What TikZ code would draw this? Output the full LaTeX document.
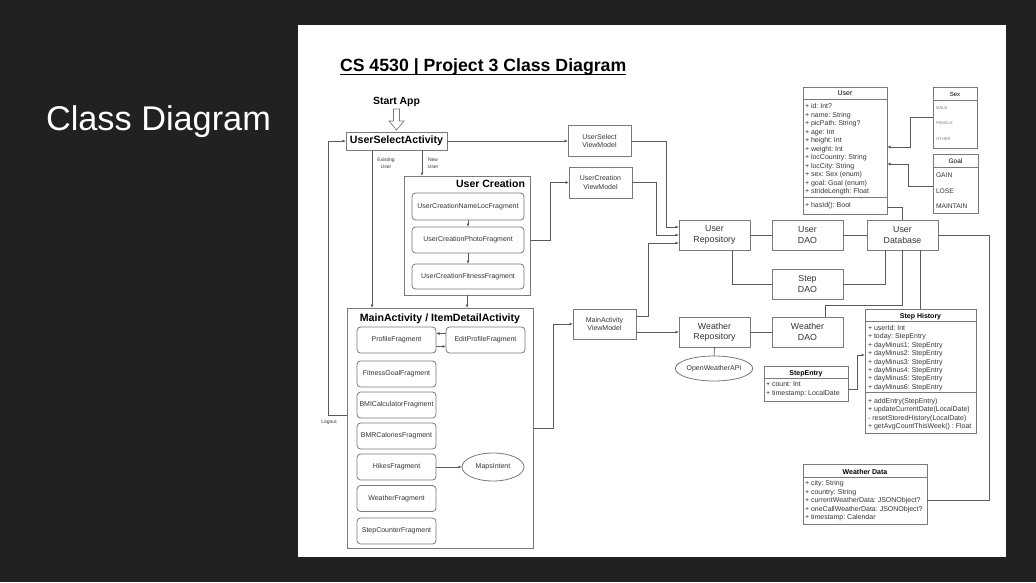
\documentclass[tikz,border=0pt]{standalone}
\usepackage{fontspec}
\setmainfont{Liberation Sans}
\usetikzlibrary{arrows.meta,shapes.geometric,positioning}
\definecolor{SlideBg}{HTML}{212121}
\definecolor{BoxLine}{HTML}{7A7A7A}
\definecolor{LinkLine}{HTML}{5A5A5A}
\definecolor{TextDark}{HTML}{353535}
\definecolor{EnumGray}{HTML}{808080}
\frenchspacing

\begin{document}
\begin{tikzpicture}[
    x=1pt, y=-1pt,
    every node/.style={inner sep=0pt, outer sep=0pt},
    plainbox/.style={draw=BoxLine, line width=0.8pt, fill=white, align=center, text=TextDark, font=\fontsize{7}{8.5}\selectfont},
    vmbox/.style={plainbox, minimum width=63, minimum height=31},
    repobox/.style={plainbox, minimum width=\repoW, minimum height=\repoH, font=\fontsize{8.8}{10.5}\selectfont},
    fragbox/.style={plainbox, rounded corners=3.5pt, minimum width=\fragW, minimum height=\fragH},
    groupbox/.style={draw=BoxLine, line width=0.8pt, fill=white},
    umlbox/.style={draw=BoxLine, line width=0.7pt, fill=white, anchor=north west},
    umltext/.style={anchor=base west, text=TextDark, font=\fontsize{7}{8.5}\selectfont},
    umlhead/.style={anchor=base, text=black, font=\bfseries\fontsize{7}{8.5}\selectfont},
    tinylabel/.style={align=center, text=TextDark, font=\fontsize{5}{7}\selectfont},
    link/.style={draw=LinkLine, line width=0.7pt},
    arr/.style={link, -{Latex[length=3.5pt, width=3pt]}},
 ]
\def\repoW{71}
\def\repoH{30}
\def\fragW{79}
\def\fragH{26}

\useasboundingbox (0,0) rectangle (1036,582);
\fill[SlideBg] (0,0) rectangle (1036,582);
\fill[white] (298,25) rectangle (1006,557);

\node[anchor=base west, text=white, font=\fontsize{34.3}{40}\selectfont] (slideTitle) at (46,130) {Class Diagram};
\node[anchor=base west, font=\bfseries\fontsize{17.7}{20}\selectfont] (diagTitle) at (340,71.7) {CS 4530 | Project 3 Class Diagram};
\draw[line width=1.3pt] ([yshift=-2.8pt]diagTitle.base west) -- ([yshift=-2.8pt]diagTitle.base east);

\node[anchor=base, font=\bfseries\fontsize{10.4}{12}\selectfont] (startApp) at (396.5,104) {Start App};
\draw[BoxLine, line width=0.7pt, fill=white] (393.5,109) -- (399.5,109) -- (399.5,121) -- (404,121) -- (396.5,130) -- (389,121) -- (393.5,121) -- cycle;

\node[plainbox, text=black, minimum width=101, minimum height=18, font=\bfseries\fontsize{10.6}{12}\selectfont] (usa) at (396.5,141) {UserSelectActivity};

\node[vmbox] (usvm) at (599.5,141) {UserSelect\\ViewModel};
\node[vmbox] (ucvm) at (600.5,182.5) {UserCreation\\ViewModel};
\node[vmbox, minimum height=30] (mavm) at (604.5,324) {MainActivity\\ViewModel};

\node[tinylabel] (existingLbl) at (386,163.5) {Existing\\User};
\node[tinylabel] (newLbl) at (433,163.5) {New\\User};
\node[tinylabel] (logoutLbl) at (329,422) {Logout};

\node[groupbox, minimum width=126, minimum height=119] (userCreation) at (467,235.5) {};
\node[anchor=base east, font=\bfseries\fontsize{10.5}{12}\selectfont] (userCreationTitle) at (525,187) {User Creation};
\node[fragbox, minimum width=112, minimum height=27] (ucName) at (468,206.5) {UserCreationNameLocFragment};
\node[fragbox, minimum width=112] (ucPhoto) at (468,240) {UserCreationPhotoFragment};
\node[fragbox, minimum width=112, minimum height=25] (ucFit) at (468,276.5) {UserCreationFitnessFragment};

\node[groupbox, minimum width=186, minimum height=240] (mainAct) at (440,428) {};
\node[anchor=base, font=\bfseries\fontsize{10.6}{12}\selectfont] (mainActTitle) at (440,321) {MainActivity / ItemDetailActivity};
\foreach \name/\yc/\txt in {profile/340/ProfileFragment, fitGoal/374/FitnessGoalFragment, bmiCalc/405/BMICalculatorFragment, bmrCal/436/BMRCaloriesFragment, hikes/467/HikesFragment, weatherFrag/498.5/WeatherFragment, stepCounter/531/StepCounterFragment} {
    \node[fragbox] (\name) at (396.5,\yc) {\txt};
}
\node[fragbox] (editProfile) at (485.5,340) {EditProfileFragment};
\node[plainbox, ellipse, minimum width=62, minimum height=28] (mapsIntent) at (493,467) {MapsIntent};

\node[repobox] (userRepo) at (714.5,235) {User\\Repository};
\node[repobox] (userDao) at (807.5,235) {User\\DAO};
\node[repobox] (userDb) at (902.5,235) {User\\Database};
\node[repobox] (stepDao) at (807.5,284) {Step\\DAO};
\node[repobox] (weatherRepo) at (714.5,332) {Weather\\Repository};
\node[repobox] (weatherDao) at (807.5,332) {Weather\\DAO};
\node[plainbox, ellipse, minimum width=64, minimum height=25] (owApi) at (714,368.5) {OpenWeatherAPI};

\node[umlbox, minimum width=84, minimum height=127] (user) at (803,87) {};
\draw[BoxLine, line width=0.7pt] (803,99) -- (887,99);
\draw[BoxLine, line width=0.7pt] (803,197) -- (887,197);
\node[umlhead, font=\fontsize{7}{8.5}\selectfont] (userHead) at (845,95.5) {User};
\foreach \t [count=\i from 0] in {+ id: Int?, + name: String, + picPath: String?, + age: Int, + height: Int, + weight: Int, + locCountry: String, + locCity: String, + sex: Sex (enum), + goal: Goal (enum), + strideLength: Float} {
    \node[umltext] (userAttr\i) at (805,108.5+8.5*\i) {\t};
}
\node[umltext] (userOp) at (805,207.5) {+ hasId(): Bool};

\node[umlbox, minimum width=44, minimum height=61] (sex) at (933,87) {};
\draw[BoxLine, line width=0.7pt] (933,100) -- (977,100);
\node[umlhead, font=\fontsize{6}{7}\selectfont] (sexHead) at (955,96.5) {Sex};
\foreach \t/\yb in {MALE/109.5, FEMALE/124.5, OTHER/140.5} {
    \node[umltext, text=EnumGray, font=\fontsize{4.2}{5}\selectfont] (sex\t) at (936,\yb) {\t};
}

\node[umlbox, minimum width=45, minimum height=59] (goal) at (933,154) {};
\draw[BoxLine, line width=0.7pt] (933,167) -- (978,167);
\node[umlhead, font=\fontsize{6.5}{7.5}\selectfont] (goalHead) at (955.5,163.5) {Goal};
\foreach \t/\yb in {GAIN/177.5, LOSE/193.5, MAINTAIN/208.5} {
    \node[umltext, font=\fontsize{6.7}{8}\selectfont] (goal\t) at (936,\yb) {\t};
}

\node[umlbox, minimum width=111, minimum height=124] (stepHist) at (865,309) {};
\draw[BoxLine, line width=0.7pt] (865,321) -- (976,321);
\draw[BoxLine, line width=0.7pt] (865,392) -- (976,392);
\node[umlhead] (stepHistHead) at (920.5,318.5) {Step History};
\foreach \t [count=\i from 0] in {+ userId: Int, + today: StepEntry, + dayMinus1: StepEntry, + dayMinus2: StepEntry, + dayMinus3: StepEntry, + dayMinus4: StepEntry, + dayMinus5: StepEntry, + dayMinus6: StepEntry} {
    \node[umltext] (stepHistAttr\i) at (868,330.5+8.4*\i) {\t};
}
\foreach \t [count=\i from 0] in {+ addEntry(StepEntry), + updateCurrentDate(LocalDate), - resetStoredHistory(LocalDate), + getAvgCountThisWeek() : Float} {
    \node[umltext] (stepHistOp\i) at (868,403.5+8.3*\i) {\t};
}

\node[umlbox, minimum width=84, minimum height=35] (stepEntry) at (764,366) {};
\draw[BoxLine, line width=0.7pt] (764,378) -- (848,378);
\node[umlhead] (stepEntryHead) at (806,375.5) {StepEntry};
\node[umltext] (stepEntryA) at (766,386.5) {+ count: Int};
\node[umltext] (stepEntryB) at (766,395.5) {+ timestamp: LocalDate};

\node[umlbox, minimum width=124, minimum height=60] (weatherData) at (803,464) {};
\draw[BoxLine, line width=0.7pt] (803,477) -- (927,477);
\node[umlhead] (weatherDataHead) at (865,474.5) {Weather Data};
\foreach \t [count=\i from 0] in {+ city: String, + country: String, + currentWeatherData: JSONObject?, + oneCallWeatherData: JSONObject?, + timestamp: Calendar} {
    \node[umltext] (weatherDataAttr\i) at (805,485.5+8.5*\i) {\t};
}

\draw[arr] (usa.east) -- (usvm.west);
\draw[arr] ([xshift=25.5pt]usa.south) -- ([xshift=25.5pt]usa.south |- userCreation.north);
\draw[arr] ([xshift=-24.5pt]usa.south) -- ([xshift=-24.5pt]usa.south |- mainAct.north);
\draw[arr] (ucName.south) -- (ucPhoto.north);
\draw[arr] (ucPhoto.south) -- (ucFit.north);
\draw[arr] (userCreation.south) -- (userCreation.south |- mainAct.north);
\draw[arr] (userCreation.east |- ucPhoto.east) -- ++(20,0) |- (ucvm.west);
\draw[arr] (mainAct.east) -- ++(20,0) |- (mavm.west);
\draw[arr] ([yshift=6.5pt]editProfile.west) -- ([yshift=6.5pt]profile.east);
\draw[arr] ([yshift=-6.5pt]profile.east) -- ([yshift=-6.5pt]editProfile.west);
\draw[arr] (hikes.east) -- (mapsIntent.west);
\draw[arr] ([yshift=13pt]mainAct.west) -- ++(-19,0) |- (usa.west);

\draw[arr] (usvm.east) -- ++(35,0) |- ([yshift=8pt]userRepo.west);
\draw[arr] (ucvm.east) -- ++(24,0) |- (userRepo.west);
\draw[arr] ([yshift=8pt]mavm.east) -- ++(12,0) |- ([yshift=-8pt]userRepo.west);
\draw[arr] (mavm.east |- weatherRepo.west) -- (weatherRepo.west);

\draw[link] (userRepo) -- (userDao);
\draw[link] (userDao) -- (userDb);
\draw[link] ([xshift=17.5pt]userRepo.south) |- (stepDao.west);
\draw[link] (stepDao.east) -| ([xshift=-17.5pt]userDb.south);
\draw[link] (weatherRepo) -- (weatherDao);
\draw[link] ([xshift=17.5pt]weatherDao.north) -- ++(0,-12) -| (userDb.south);
\draw[link] ([xshift=18pt]userDb.south) -- ([xshift=18pt]userDb.south |- stepHist.north);
\draw[link] (userDb.east) -- ++(51,0) |- ([yshift=-6pt]weatherData.east);
\draw[link] ([yshift=7pt]user.south east) -| (userDb.north);
\draw[link] (weatherRepo.south) -- (owApi.north);

\draw[arr] (sex.west) -- ++(-23,0) |- ([yshift=3.5pt]user.east);
\draw[arr] ([yshift=-2.5pt]goal.west) -- ++(-25,0) |- ([yshift=-13.5pt]user.east);
\draw[arr] ([yshift=-5.5pt]stepEntry.east) -- ++(9,0) |- ([yshift=16pt]stepHist.west);

\end{tikzpicture}
\end{document}
